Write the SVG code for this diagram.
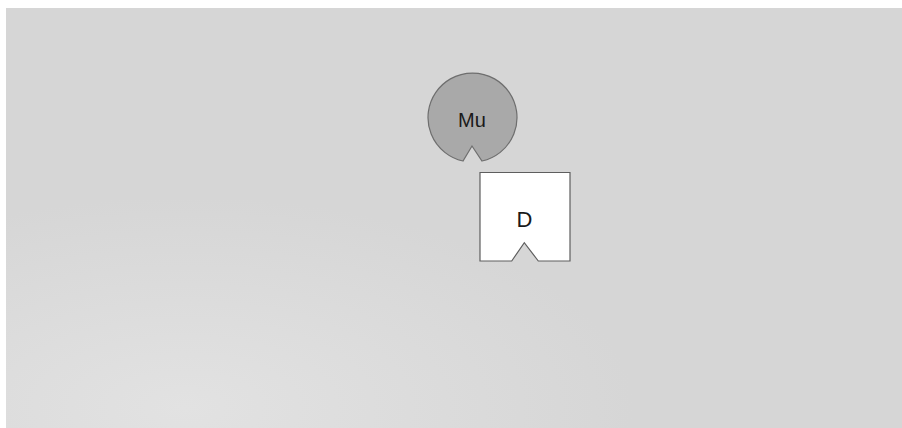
<svg xmlns="http://www.w3.org/2000/svg" width="902" height="428" viewBox="0 0 902 428">
  <style>
    .lbl { font-family: "Liberation Sans", Arial, sans-serif; fill: #1a1a1a; text-anchor: middle; }
    .mu { fill: #a9a9a9; stroke: #6e6e6e; stroke-width: 1.2; }
    .d { fill: #ffffff; stroke: #5e5e5e; stroke-width: 1.2; }
  </style>
  <defs>
    <radialGradient id="bg" cx="0.2" cy="0.95" r="0.5">
      <stop offset="0" stop-color="#e2e2e2"/>
      <stop offset="1" stop-color="#d6d6d6"/>
    </radialGradient>
  </defs>
  <rect x="0" y="0" width="902" height="428" fill="#ffffff"/>
  <rect x="6" y="8" width="896" height="420" fill="url(#bg)"/>
  <g id="connectors"></g>
  <g id="node-mu">
    <path class="mu" d="M463,161 A44.5,44.5 0 1 1 482,161 L472,146 Z"/>
    <text class="lbl" x="472" y="127" font-size="20">Mu</text>
  </g>
  <g id="node-d">
    <path class="d" d="M480,172.5 L570,172.5 L570,261 L538.3,261 L524.3,242.7 L511.7,261 L480,261 Z"/>
    <text class="lbl" x="524.5" y="227" font-size="22">D</text>
  </g>
</svg>
